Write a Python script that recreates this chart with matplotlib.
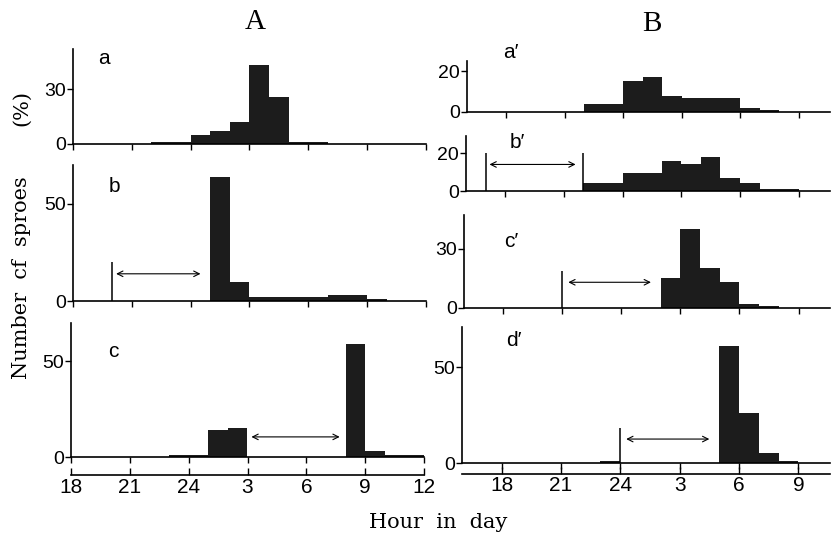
import matplotlib
matplotlib.use("Agg")
import matplotlib.pyplot as plt

plt.rcParams['font.family'] = ['Liberation Sans', 'DejaVu Sans']

# clock hours, counted on past 24 (27 = 3 o'clock next day); 1-hour bins
a_start = [22, 23, 24, 25, 26, 27, 28, 29, 30]
a_vals = [1, 1, 5, 7, 12, 43, 26, 1, 1]
b_start = [25, 26, 27, 28, 29, 30, 31, 32, 33]
b_vals = [64, 10, 2, 2, 2, 2, 3, 3, 1]
c_start = [23, 24, 25, 26, 32, 33, 34, 35]
c_vals = [1, 1, 14, 15, 59, 3, 1, 1]

a2_start = [22, 23, 24, 25, 26, 27, 28, 29, 30, 31]
a2_vals = [4, 4, 15, 17, 8, 7, 7, 7, 2, 1]
b2_start = [22, 23, 24, 25, 26, 27, 28, 29, 30, 31, 32]
b2_vals = [4, 4, 9.5, 9.5, 16, 14, 18, 7, 4, 1, 1]
c2_start = [26, 27, 28, 29, 30, 31]
c2_vals = [15, 40, 20, 13, 2, 1]
d2_start = [23, 29, 30, 31, 32]
d2_vals = [1, 61, 26, 5, 1]

# dark period marks: (vertical line positions, line height, arrow from, arrow to, arrow height)
b_mark = ([20], 20, 20.2, 24.5, 14)
c_mark = ([], 0, 27.2, 31.7, 10.5)
b2_mark = ([17, 22], 20, 17.2, 21.6, 14)
c2_mark = ([21], 18.5, 21.3, 25.5, 13)
d2_mark = ([24], 18.5, 24.3, 28.5, 12.5)

hour_ticks_A = [18, 21, 24, 27, 30, 33, 36]
hour_labels_A = ['18', '21', '24', '3', '6', '9', '12']
hour_ticks_B = [18, 21, 24, 27, 30, 33]
hour_labels_B = ['18', '21', '24', '3', '6', '9']

W, H = 832, 543
fig = plt.figure(figsize=(W / 100, H / 100), dpi=100)


def make_ax(x0, x1, ytop, ybot):
    return fig.add_axes([x0 / W, 1 - ybot / H, (x1 - x0) / W, (ybot - ytop) / H])


def panel(ax, starts, vals, xlim, ylim, yticks, xticks, letter, lpos, mark=None):
    ax.bar(starts, vals, width=1.0, align='edge', color='#1c1c1c', linewidth=0)
    ax.set_xlim(*xlim)
    ax.set_ylim(0, ylim)
    ax.set_yticks(yticks)
    ax.set_xticks(xticks)
    ax.set_xticklabels([])
    for s in ['top', 'right']:
        ax.spines[s].set_visible(False)
    for s in ['left', 'bottom']:
        ax.spines[s].set_linewidth(1.2)
    ax.tick_params(axis='x', direction='out', length=4, width=1)
    ax.tick_params(axis='y', direction='out', length=4, width=1, labelsize=14, pad=1)
    ax.text(lpos[0], lpos[1], letter, transform=ax.transAxes, fontsize=15, va='top')
    if mark:
        lines, lh, x1, x2, ya = mark
        if lines:
            ax.vlines(lines, 0, lh, color='black', lw=1.1)
        ax.annotate('', xy=(x2, ya), xytext=(x1, ya),
                    arrowprops=dict(arrowstyle='<->', lw=0.8, color='black',
                                    shrinkA=0, shrinkB=0))


def hour_axis(ax, loc, ticks, labels):
    sec = ax.secondary_xaxis(loc)
    sec.set_xticks(ticks)
    sec.set_xticklabels(labels)
    sec.spines['bottom'].set_linewidth(1.2)
    sec.tick_params(direction='in', length=5, width=1, labelsize=15, pad=2)


xA = (18, 36)
xB = (16, 34.6)

ax_a = make_ax(73, 426, 49, 144)
panel(ax_a, a_start, a_vals, xA, 52, [0, 30], hour_ticks_A, 'a', (0.07, 1.0))
ax_b = make_ax(73, 426, 165, 301)
panel(ax_b, b_start, b_vals, xA, 70, [0, 50], hour_ticks_A, 'b', (0.1, 0.91), b_mark)
ax_c = make_ax(71, 424, 323, 457)
panel(ax_c, c_start, c_vals, xA, 70, [0, 50], hour_ticks_A, 'c', (0.105, 0.86), c_mark)
hour_axis(ax_c, -0.135, hour_ticks_A, hour_labels_A)

ax_a2 = make_ax(467, 830, 61, 112)
panel(ax_a2, a2_start, a2_vals, xB, 25, [0, 20], hour_ticks_B, 'a\u2032', (0.1, 1.35))
ax_b2 = make_ax(466, 830, 136, 191)
panel(ax_b2, b2_start, b2_vals, xB, 29, [0, 20], hour_ticks_B, 'b\u2032', (0.12, 1.05), b2_mark)
ax_c2 = make_ax(464, 830, 215, 308)
panel(ax_c2, c2_start, c2_vals, xB, 47, [0, 30], hour_ticks_B, 'c\u2032', (0.11, 0.82), c2_mark)
ax_d2 = make_ax(462, 830, 327, 463)
panel(ax_d2, d2_start, d2_vals, xB, 71, [0, 50], hour_ticks_B, 'd\u2032', (0.12, 0.97), d2_mark)
hour_axis(ax_d2, -0.078, hour_ticks_B, hour_labels_B)

serif = ['DejaVu Serif']
fig.text(255 / W, 1 - 22 / H, 'A', fontsize=21, family=['Liberation Serif'], ha='center', va='center')
fig.text(652 / W, 1 - 24 / H, 'B', fontsize=21, family=['Liberation Serif'], ha='center', va='center')
fig.text(22 / W, 1 - 108 / H, '(%)', fontsize=15, family=serif, rotation=90, ha='center', va='center')
fig.text(22 / W, 1 - 278 / H, 'Number  cf  sproes', fontsize=15, family=serif, rotation=90,
         ha='center', va='center')
fig.text(438 / W, 1 - 523 / H, 'Hour  in  day', fontsize=15, family=serif, ha='center', va='center')

fig.savefig('out.png', dpi=100)
